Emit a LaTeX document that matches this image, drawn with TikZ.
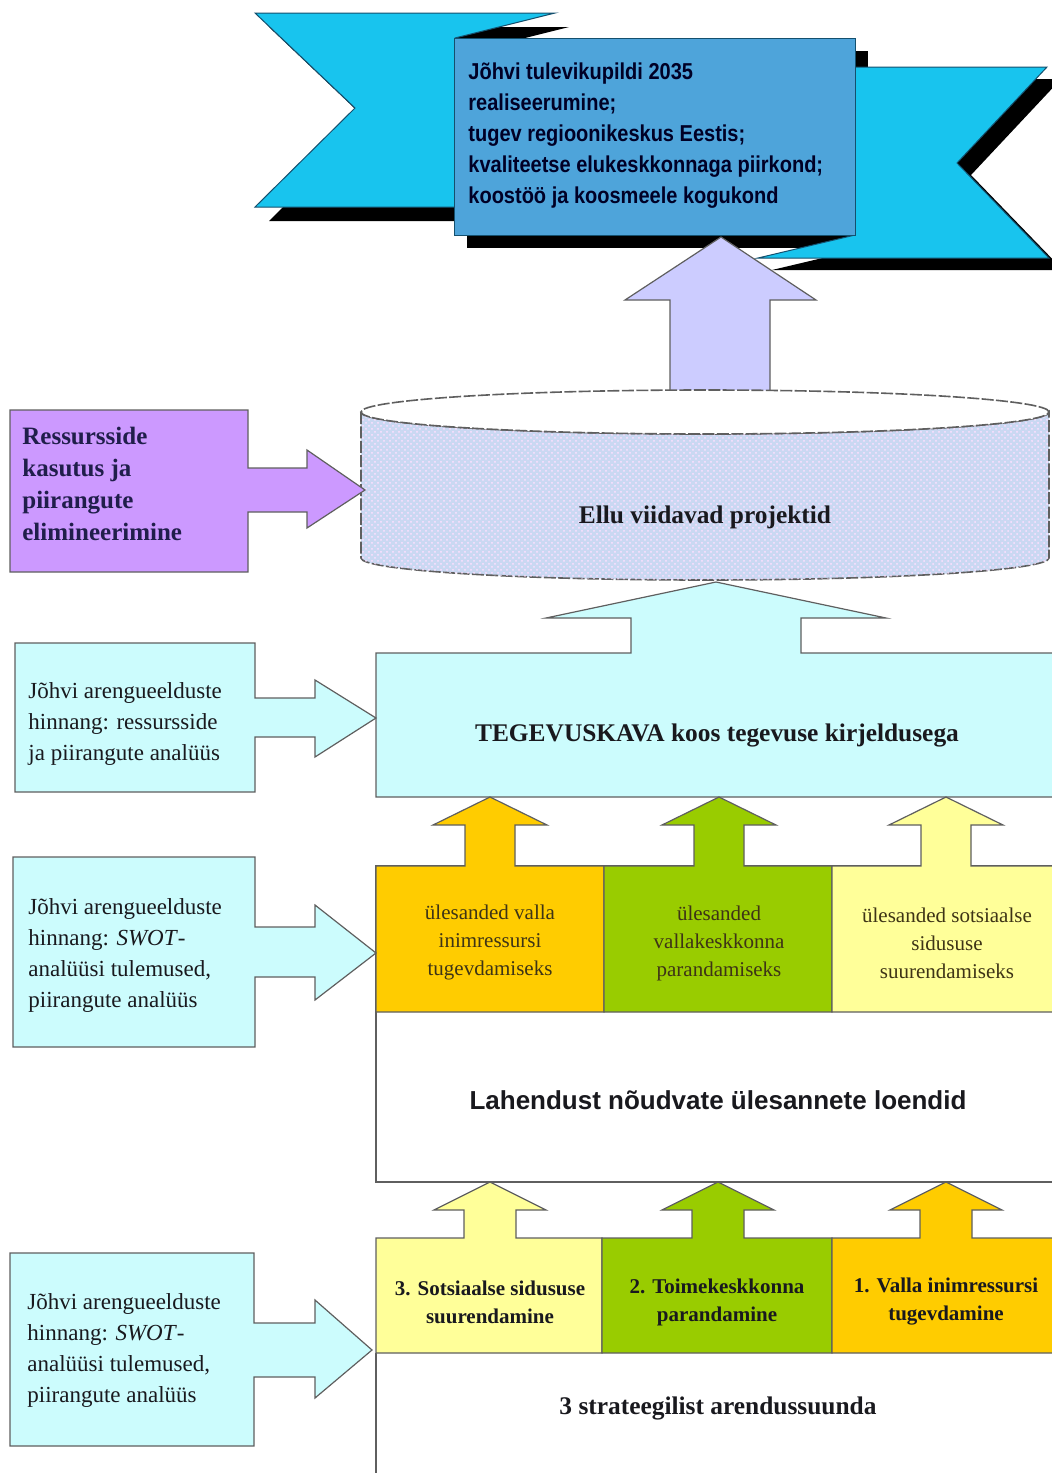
\documentclass[tikz,border=0pt]{standalone}
\usepackage{fontspec}
\setmainfont{Liberation Serif}
\newfontfamily\bannerfont[FakeStretch=0.87]{Liberation Sans}
\newfontfamily\listfont{Liberation Sans}
\usetikzlibrary{patterns}

\definecolor{ribbon}{RGB}{24,196,238}
\definecolor{ribbonline}{RGB}{20,80,110}
\definecolor{visionblue}{RGB}{78,164,218}
\definecolor{lavender}{RGB}{204,204,255}
\definecolor{violet}{RGB}{204,153,255}
\definecolor{paleblue}{RGB}{204,252,253}
\definecolor{cylblue}{RGB}{202,216,242}
\definecolor{ochre}{RGB}{255,204,0}
\definecolor{leaf}{RGB}{153,204,0}
\definecolor{cream}{RGB}{255,255,153}
\definecolor{boxline}{RGB}{95,95,95}
\definecolor{inkdark}{RGB}{25,25,30}
\definecolor{inknavy}{RGB}{32,30,75}
\definecolor{inkbrown}{RGB}{62,52,22}

\tikzset{
  piece/.style={fill=ribbon, draw=ribbonline, line width=0.5pt},
  boxed/.style={draw=boxline, line width=0.6pt},
  txt/.style={inner sep=0pt, text=inkdark},
  headtxt/.style={txt, font={\bfseries\fontsize{12.7}{15}\selectfont}},
  sidetxt/.style={txt, anchor=west, align=left, font={\fontsize{11.5}{15.5}\selectfont}},
  celltxt/.style={txt, align=center, font={\fontsize{10.5}{14}\selectfont}},
}

\begin{document}
\begin{tikzpicture}[x=0.5pt,y=0.5pt]
\useasboundingbox (0,0) rectangle (1051,-1473);

% banner
\fill[black, shift={(14,-14)}] (255,-13) -- (555,-13) -- (455,-38) -- (455,-207) -- (255,-207) -- (355,-108) -- cycle;
\filldraw[piece] (255,-13) -- (555,-13) -- (455,-38) -- (455,-207) -- (255,-207) -- (355,-108) -- cycle;
\fill[black] (467,-51) rectangle (868,-248);
\fill[black, shift={(14,-12)}] (855,-67) -- (1047,-67) -- (957,-163) -- (1049,-258) -- (758,-258) -- (855,-235) -- cycle;
\filldraw[piece] (855,-67) -- (1047,-67) -- (957,-163) -- (1049,-258) -- (758,-258) -- (855,-235) -- cycle;
\node[piece, fill=visionblue, minimum width=200.5pt, minimum height=98.5pt] (vision) at (654.5,-136.5) {};
\node[txt, anchor=west, align=left, text=black!85!blue, font={\bannerfont\bfseries\fontsize{11.5}{15.5}\selectfont}] (visiontext) at (468,-136)
  {J\~ohvi tulevikupildi 2035\\realiseerumine;\\tugev regioonikeskus Eestis;\\kvaliteetse elukeskkonnaga piirkond;\\koost\"o\"o ja koosmeele kogukond};

% arrow into banner
\filldraw[boxed, fill=lavender] (670,-400) -- (670,-300) -- (625,-300) -- (721,-237) -- (816,-300) -- (770,-300) -- (770,-400) -- cycle;

% projects
\filldraw[draw=boxline, line width=0.8pt, dash pattern=on 6pt off 1.2pt, fill=cylblue]
  (361,-412) -- (361,-558) arc[start angle=180, end angle=360, x radius=172pt, y radius=11pt]
  -- (1049,-412) arc[start angle=0, end angle=-180, x radius=172pt, y radius=11pt] -- cycle;
\fill[pattern=crosshatch dots, pattern color=magenta!12]
  (361,-412) -- (361,-558) arc[start angle=180, end angle=360, x radius=172pt, y radius=11pt]
  -- (1049,-412) arc[start angle=0, end angle=-180, x radius=172pt, y radius=11pt] -- cycle;
\filldraw[draw=boxline, line width=0.8pt, dash pattern=on 6pt off 1.2pt, fill=white] (705,-412) ellipse [x radius=172pt, y radius=11pt];
\node[headtxt] (projects) at (705,-517) {Ellu viidavad projektid};

\filldraw[boxed, fill=violet] (10,-410) -- (248,-410) -- (248,-468) -- (307,-468) -- (307,-450) -- (365,-490) -- (307,-528) -- (307,-512) -- (248,-512) -- (248,-572) -- (10,-572) -- cycle;
\node[txt, anchor=west, align=left, text=inknavy, font={\bfseries\fontsize{12.5}{16}\selectfont}] (resources) at (22,-484)
  {Ressursside\\kasutus ja\\piirangute\\elimineerimine};

% action plan
\filldraw[boxed, fill=paleblue] (376,-653) -- (631,-653) -- (631,-618) -- (546,-618) -- (716,-582) -- (886,-618) -- (801,-618) -- (801,-653) -- (1060,-653) -- (1060,-797) -- (376,-797) -- cycle;
\node[headtxt] (plan) at (717,-735) {TEGEVUSKAVA koos tegevuse kirjeldusega};

\filldraw[boxed, fill=paleblue] (15,-643) -- (255,-643) -- (255,-698) -- (315,-698) -- (315,-680) -- (376,-718) -- (315,-757) -- (315,-737) -- (255,-737) -- (255,-792) -- (15,-792) -- cycle;
\node[sidetxt] (assess1) at (28,-724) {J\~ohvi arengueelduste\\hinnang: ressursside\\ja piirangute anal\"u\"us};

% task lists
\filldraw[boxed, fill=white] (376,-866) rectangle (1060,-1182);
\foreach \xa/\xb/\c/\col in {376/604/490/ochre, 604/832/719/leaf, 832/1060/946/cream}
  \filldraw[boxed, fill=\col] (\xa,-1012) -- (\xa,-866) -- ({\c-25},-866) -- ({\c-25},-825) -- ({\c-57},-825) -- (\c,-797) -- ({\c+57},-825) -- ({\c+25},-825) -- ({\c+25},-866) -- (\xb,-866) -- (\xb,-1012) -- cycle;
\node[celltxt, text=inkbrown] (task1) at (490,-942) {\"ulesanded valla\\inimressursi\\tugevdamiseks};
\node[celltxt, text=inkbrown] (task2) at (719,-943) {\"ulesanded\\vallakeskkonna\\parandamiseks};
\node[celltxt, text=inkbrown] (task3) at (947,-943) {\"ulesanded sotsiaalse\\sidususe\\suurendamiseks};
\node[txt, font={\listfont\bfseries\fontsize{13}{15}\selectfont}] (lists) at (718,-1100) {Lahendust n\~oudvate \"ulesannete loendid};

\filldraw[boxed, fill=paleblue] (13,-857) -- (255,-857) -- (255,-927) -- (315,-927) -- (315,-905) -- (376,-953) -- (315,-1000) -- (315,-977) -- (255,-977) -- (255,-1047) -- (13,-1047) -- cycle;
\node[sidetxt] (assess2) at (28,-955) {J\~ohvi arengueelduste\\hinnang: \textit{SWOT}-\\anal\"u\"usi tulemused,\\piirangute anal\"u\"us};

% strategic directions
\draw[boxed] (376,-1353) -- (376,-1480);
\foreach \xa/\xb/\c/\col in {376/602/490/cream, 602/832/718/leaf, 832/1060/946/ochre}
  \filldraw[boxed, fill=\col] (\xa,-1353) -- (\xa,-1238) -- ({\c-26},-1238) -- ({\c-26},-1210) -- ({\c-56},-1210) -- (\c,-1182) -- ({\c+56},-1210) -- ({\c+26},-1210) -- ({\c+26},-1238) -- (\xb,-1238) -- (\xb,-1353) -- cycle;
\node[celltxt, font={\bfseries\fontsize{10.5}{14}\selectfont}] (dir3) at (490,-1302) {3. Sotsiaalse sidususe\\suurendamine};
\node[celltxt, font={\bfseries\fontsize{10.5}{14}\selectfont}] (dir2) at (717,-1302) {2. Toimekeskkonna\\parandamine};
\node[celltxt, font={\bfseries\fontsize{10.5}{14}\selectfont}] (dir1) at (946,-1302) {1. Valla inimressursi\\tugevdamine};
\node[headtxt] (directions) at (718,-1408) {3 strateegilist arendussuunda};

\filldraw[boxed, fill=paleblue] (10,-1253) -- (254,-1253) -- (254,-1323) -- (315,-1323) -- (315,-1300) -- (372,-1350) -- (315,-1398) -- (315,-1377) -- (254,-1377) -- (254,-1446) -- (10,-1446) -- cycle;
\node[sidetxt] (assess3) at (27,-1350) {J\~ohvi arengueelduste\\hinnang: \textit{SWOT}-\\anal\"u\"usi tulemused,\\piirangute anal\"u\"us};
\end{tikzpicture}
\end{document}
